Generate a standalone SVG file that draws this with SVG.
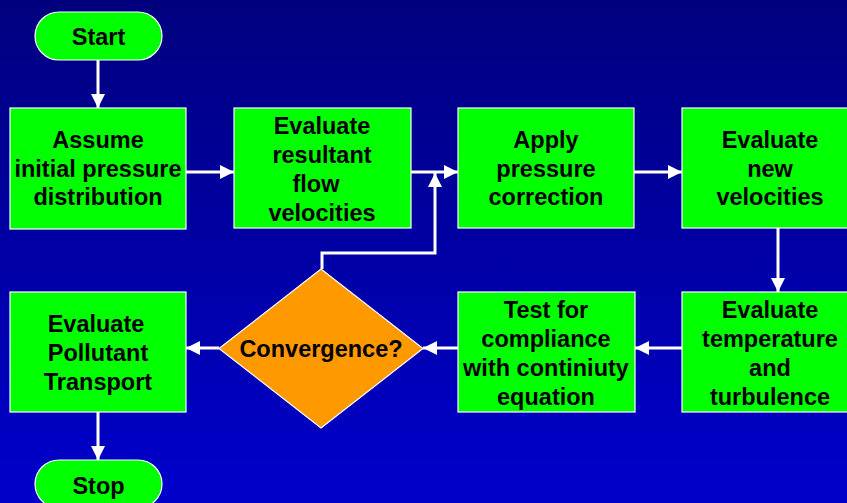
<svg xmlns="http://www.w3.org/2000/svg" width="847" height="503" viewBox="0 0 847 503">
<defs>
<linearGradient id="bg" x1="0" y1="0" x2="0" y2="1">
<stop offset="0" stop-color="#00007E"/>
<stop offset="1" stop-color="#0000CC"/>
</linearGradient>
<marker id="ah" viewBox="0 0 10 10" refX="10" refY="5" markerWidth="14" markerHeight="14" markerUnits="userSpaceOnUse" orient="auto">
<path d="M0,0 L10,5 L0,10 z" fill="#FFFFFF"/>
</marker>
<style>
.box{fill:#00FF00;stroke:#FFFFFF;stroke-width:1.2}
.dec{fill:#FF9900;stroke:#FFFFFF;stroke-width:1.2}
.t{font-family:"Liberation Sans",Arial,sans-serif;font-weight:bold;font-size:23.5px;fill:#000000;text-anchor:middle}
.c{fill:none;stroke:#FFFFFF;stroke-width:3;marker-end:url(#ah)}
</style>
</defs>
<rect width="847" height="503" fill="url(#bg)"/>
<g id="connectors">
<path class="c" d="M98,60 V108"/>
<path class="c" d="M186,172 H234"/>
<path class="c" d="M411,172 H458"/>
<path class="c" d="M322,269 V253 H435 V173"/>
<path class="c" d="M634,172 H682"/>
<path class="c" d="M778,228 V292"/>
<path class="c" d="M682,348 H635"/>
<path class="c" d="M458,348 H423"/>
<path class="c" d="M219,348 H186"/>
<path class="c" d="M98,412 V460"/>
</g>
<g id="start">
<rect class="box" x="35" y="12" width="127" height="48" rx="24" ry="24"/>
<text class="t" x="98.5" y="45">Start</text>
</g>
<g id="assume">
<rect class="box" x="10" y="108" width="176" height="121"/>
<text class="t" x="98" y="148">Assume</text>
<text class="t" x="98" y="177">initial pressure</text>
<text class="t" x="98" y="205">distribution</text>
</g>
<g id="resultant">
<rect class="box" x="234" y="108" width="177" height="120"/>
<text class="t" x="322" y="134">Evaluate</text>
<text class="t" x="322" y="163">resultant</text>
<text class="t" x="316" y="192">flow</text>
<text class="t" x="322" y="221">velocities</text>
</g>
<g id="apply">
<rect class="box" x="458" y="108" width="176" height="120"/>
<text class="t" x="546" y="148">Apply</text>
<text class="t" x="546" y="177">pressure</text>
<text class="t" x="546" y="205">correction</text>
</g>
<g id="newvel">
<rect class="box" x="682" y="108" width="176" height="120"/>
<text class="t" x="770" y="148">Evaluate</text>
<text class="t" x="770" y="177">new</text>
<text class="t" x="770" y="205">velocities</text>
</g>
<g id="temp">
<rect class="box" x="682" y="292" width="176" height="120"/>
<text class="t" x="770" y="318">Evaluate</text>
<text class="t" x="770" y="347">temperature</text>
<text class="t" x="770" y="376">and</text>
<text class="t" x="770" y="405">turbulence</text>
</g>
<g id="test">
<rect class="box" x="458" y="292" width="177" height="120"/>
<text class="t" x="546" y="318">Test for</text>
<text class="t" x="546" y="347">compliance</text>
<text class="t" x="546" y="376">with continiuty</text>
<text class="t" x="546" y="405">equation</text>
</g>
<g id="convergence">
<polygon class="dec" points="321,269 423,348.5 321,428 219,348.5"/>
<text class="t" x="321" y="357">Convergence?</text>
</g>
<g id="pollutant">
<rect class="box" x="10" y="292" width="176" height="120"/>
<text class="t" x="96" y="332">Evaluate</text>
<text class="t" x="98" y="361">Pollutant</text>
<text class="t" x="98" y="390">Transport</text>
</g>
<g id="stop">
<rect class="box" x="35" y="460" width="127" height="48" rx="24" ry="24"/>
<text class="t" x="98.5" y="494">Stop</text>
</g>
</svg>
